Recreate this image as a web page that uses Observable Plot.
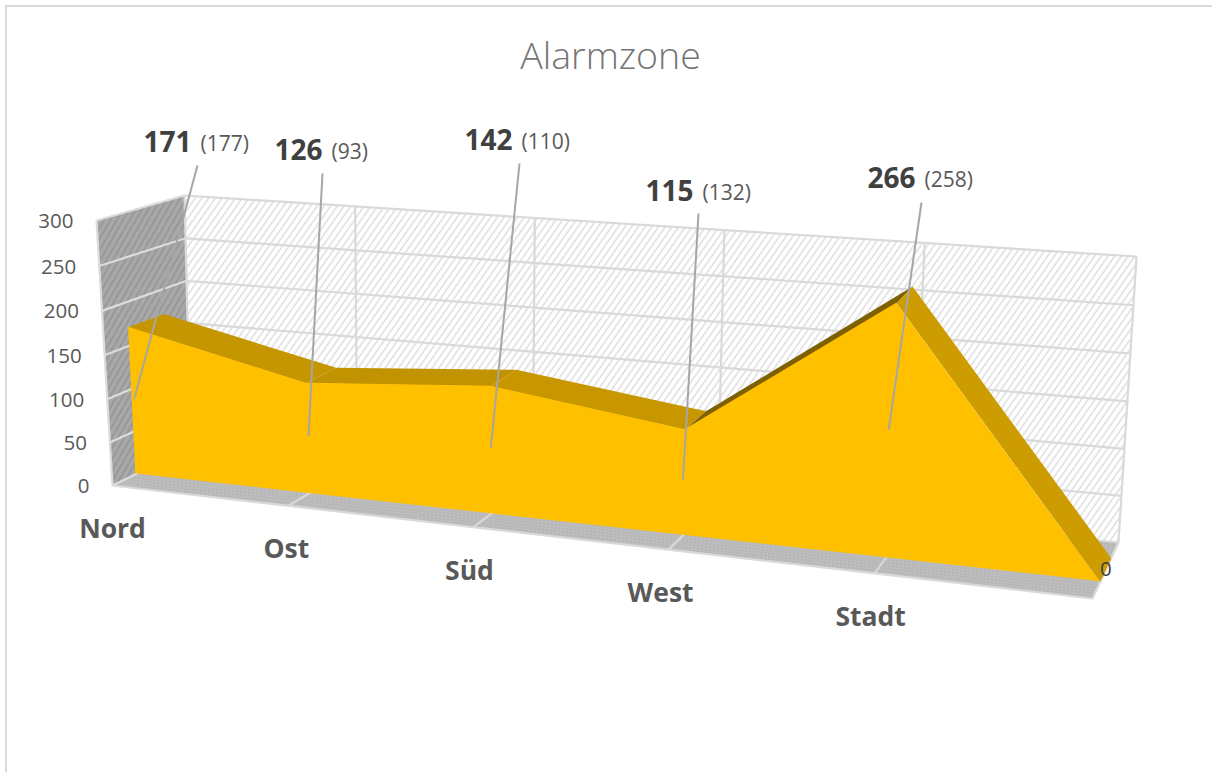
<!DOCTYPE html>
<html>
<head>
<meta charset="utf-8">
<script src="https://cdn.jsdelivr.net/npm/d3@7"></script>
<script src="https://cdn.jsdelivr.net/npm/@observablehq/plot@0.6"></script>
<style>
html,body{margin:0;padding:0;background:#fff;overflow:hidden;width:1212px;height:772px}
#frame{position:absolute;left:5px;top:5px;width:1300px;height:900px;border:2px solid #d9d9d9;box-sizing:border-box}
#title{position:relative;height:100px;text-align:center;font:300 37.5px/110px "Open Sans",sans-serif;color:#757575;width:1221px;box-sizing:border-box}
#chart{position:relative;display:block}
svg{display:block}
</style>
</head>
<body>
<div id="frame"></div>
<div id="title">Alarmzone</div>
<div id="chart"></div>
<script>
// ---- data ----
const categories = ["Nord", "Ost", "Süd", "West", "Stadt", ""];
const values = [171, 126, 142, 115, 266, 0];
const previous = [177, 93, 110, 132, 258, null];
const valueTicks = [0, 50, 100, 150, 200, 250, 300];
const titleText = "Alarmzone";

// ---- layout of the 3D box (screen corners of the front and back planes) ----
const frontQuad = {tl: [96, 220], tr: [1113, 298], br: [1092, 598], bl: [112, 485]};
const backQuad = {tl: [184, 195], tr: [1136, 256], br: [1118, 542], bl: [190, 447]};
const areaFront = 0.3, areaBack = 0.72, yMax = 300;
const faceShades = ["#c69600", "#c29300", "#c89700", "#7f6000", "#cc9c00"];
const categoryNudge = [0, -2, -4, -8, -4];
// outer ends of the leaders and the anchor between bold value and bracketed value
const leaderTops = [[197, 165], [322, 173], [519, 163], [698, 213], [921, 202]];
const labelSplit = [[195, 143], [326, 151], [516, 141], [697, 192], [919, 179]];

function homography(q) {
  const [x0, y0] = q.tl, [x1, y1] = q.tr, [x2, y2] = q.br, [x3, y3] = q.bl;
  const dx1 = x1 - x2, dx2 = x3 - x2, sx = x0 - x1 + x2 - x3;
  const dy1 = y1 - y2, dy2 = y3 - y2, sy = y0 - y1 + y2 - y3;
  const det = dx1 * dy2 - dx2 * dy1;
  const g = (sx * dy2 - dx2 * sy) / det, h = (dx1 * sy - sx * dy1) / det;
  const a = x1 - x0 + g * x1, b = x3 - x0 + h * x3, c = x0;
  const d = y1 - y0 + g * y1, e = y3 - y0 + h * y3, f = y0;
  return (s, t) => {
    const k = g * s + h * t + 1;
    return [(a * s + b * t + c) / k, (d * s + e * t + f) / k];
  };
}
const hFront = homography(frontQuad), hBack = homography(backQuad);
const nSeg = categories.length - 1;
// category index, value, depth (0 front .. 1 back) -> picture position
function project(i, v, w) {
  const s = i / nSeg, t = 1 - v / yMax;
  const f = hFront(s, t), b = hBack(s, t);
  return {x: f[0] + (b[0] - f[0]) * w, y: f[1] + (b[1] - f[1]) * w};
}
const poly = (pts, fill) => Plot.line([...pts, pts[0]], {x: "x", y: "y", fill, stroke: "none"});
const link = (rows, stroke, strokeWidth) => Plot.link(rows, {
  x1: d => d[0].x, y1: d => d[0].y, x2: d => d[1].x, y2: d => d[1].y, stroke, strokeWidth
});

const idx = d3.range(categories.length);
const inner = d3.range(1, nSeg);

// walls and floor
const backWall = [project(0, yMax, 1), project(nSeg, yMax, 1), project(nSeg, 0, 1), project(0, 0, 1)];
const sideWall = [project(0, yMax, 0), project(0, yMax, 1), project(0, 0, 1), project(0, 0, 0)];
const floor = [project(0, 0, 0), project(0, 0, 1), project(nSeg, 0, 1), project(nSeg, 0, 0)];

const wallGrid = [
  ...valueTicks.map(v => [project(0, v, 1), project(nSeg, v, 1)]),
  ...idx.map(i => [project(i, 0, 1), project(i, yMax, 1)])
];
const sideGrid = [
  ...valueTicks.map(v => [project(0, v, 0), project(0, v, 1)]),
  [project(0, 0, 0), project(0, yMax, 0)]
];
const floorGrid = [
  ...inner.map(i => [project(i, 0, 0), project(i, 0, 1)]),
  [project(0, 0, 0), project(nSeg, 0, 0)],
  [project(nSeg, 0, 0), project(nSeg, 0, 1)]
];

// area
const faces = d3.range(nSeg).map(i => ({
  pts: [project(i, values[i], areaFront), project(i, values[i], areaBack),
        project(i + 1, values[i + 1], areaBack), project(i + 1, values[i + 1], areaFront)],
  fill: faceShades[i]
}));
const areaRows = idx.map(i => ({top: project(i, values[i], areaFront), base: project(i, 0, areaFront)}));

// callouts
const callouts = d3.range(nSeg).map(i => ({
  i,
  inner: project(i * 0.994 + 0.012, values[i] / 2 + 3, areaFront),
  outer: {x: leaderTops[i][0], y: leaderTops[i][1]},
  lx: labelSplit[i][0], ly: labelSplit[i][1],
  value: values[i], prev: previous[i]
}));
const lastPoint = project(nSeg, 0, (areaFront + areaBack) / 2);

const font = "Open Sans";
const plot = Plot.plot({
  width: 1212, height: 672,
  margin: 0,
  x: {domain: [0, 1212], axis: null},
  y: {domain: [772, 100], axis: null},
  marks: [
    poly(backWall, "url(#hatchWall)"),
    poly(sideWall, "url(#hatchSide)"),
    poly(floor, "url(#hatchFloor)"),
    link(wallGrid, "#d9d9d9", 2.2),
    link(sideGrid, "#dcdcdc", 2.2),
    link(floorGrid, "#d9d9d9", 2.2),
    ...faces.map(f => poly(f.pts, f.fill)),
    Plot.area(areaRows, {
      x1: d => d.top.x, y1: d => d.top.y, x2: d => d.base.x, y2: d => d.base.y,
      fill: "#ffc000", stroke: "none"
    }),
    link(callouts.map(c => [c.inner, c.outer]), "#a6a6a6", 2),
    // value axis
    Plot.text(valueTicks, {
      x: v => project(0, v, 0).x, y: v => project(0, v, 0).y, text: String,
      dx: -23, dy: 1, textAnchor: "end", fontFamily: font, fontSize: 20.5, fill: "#595959"
    }),
    // category axis
    Plot.text(idx.slice(0, nSeg), {
      x: i => project(i, 0, 0).x + categoryNudge[i], y: i => project(i, 0, 0).y, text: i => categories[i],
      dy: 44, fontFamily: font, fontSize: 26.5, fontWeight: 700, fill: "#595959"
    }),
    // data labels
    Plot.text(callouts, {
      x: "lx", y: "ly", text: d => String(d.value), dx: -4, textAnchor: "end",
      fontFamily: font, fontSize: 28, fontWeight: 700, fill: "#404040"
    }),
    Plot.text(callouts, {
      x: "lx", y: "ly", text: d => `(${d.prev})`, dx: 5, dy: 1, textAnchor: "start",
      fontFamily: font, fontSize: 21, fill: "#595959"
    }),
    Plot.text([values[nSeg]], {
      x: () => lastPoint.x, y: () => lastPoint.y, text: String, dy: -1,
      fontFamily: font, fontSize: 20.5, fill: "#404040"
    })
  ]
});

// hatch fills used by the walls and the floor
d3.select(plot).insert("defs", ":first-child").html(`
  <pattern id="hatchWall" width="5.5" height="5.5" patternUnits="userSpaceOnUse" patternTransform="rotate(35)">
    <rect width="5.5" height="5.5" fill="#ffffff"/><line x1="1" y1="0" x2="1" y2="5.5" stroke="#e0e0e0" stroke-width="1.6"/>
  </pattern>
  <pattern id="hatchSide" width="5.5" height="5.5" patternUnits="userSpaceOnUse" patternTransform="rotate(30)">
    <rect width="5.5" height="5.5" fill="#a8a8a8"/><line x1="1" y1="0" x2="1" y2="5.5" stroke="#959595" stroke-width="1.6"/>
  </pattern>
  <pattern id="hatchFloor" width="4" height="3" patternUnits="userSpaceOnUse" patternTransform="rotate(6)">
    <rect width="4" height="3" fill="#bfbfbf"/><line x1="0" y1="1" x2="4" y2="1" stroke="#adadad" stroke-width="1" stroke-dasharray="2 1"/>
  </pattern>`);

document.getElementById("title").textContent = titleText;
document.getElementById("chart").appendChild(plot);
</script>
</body>
</html>
